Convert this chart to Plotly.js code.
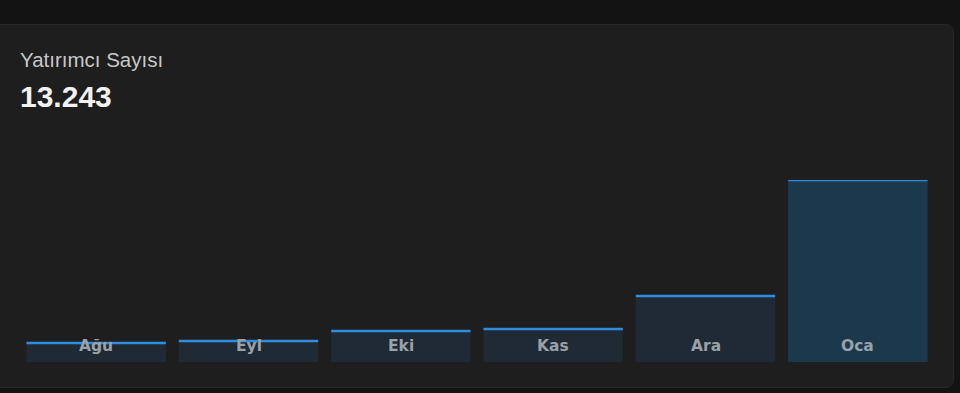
<!DOCTYPE html>
<html>
<head>
<meta charset="utf-8">
<script src="https://cdn.plot.ly/plotly-3.0.1.min.js"></script>
<style>
  html, body { margin:0; padding:0; width:960px; height:393px; background:#131313; overflow:hidden; }
  #card { position:absolute; left:-10px; top:24px; width:964px; height:364px; background:#1e1e1e; border-radius:8px; border:1px solid #262626; box-sizing:border-box; }
  #chart { position:absolute; left:0; top:0; width:960px; height:393px; }
</style>
</head>
<body>
<div id="card"></div>
<div id="chart"></div>
<script>
const months = ["Ağu", "Eyl", "Eki", "Kas", "Ara", "Oca"];
const investors = [1390, 1530, 2250, 2400, 4800, 13243];
const chartTitle = "Yatırımcı Sayısı";
const headline = "13.243";

const barWidth = 0.915;
const xs = months.map((m, i) => i);
const fills = months.map((m, i) => i === months.length - 1 ? "#1b384d" : "#1f2a34");

const lineX = [], lineY = [];
investors.forEach((v, i) => {
  lineX.push(i - barWidth / 2, i + barWidth / 2, null);
  lineY.push(v, v, null);
});

const bars = {
  type: "bar", x: xs, y: investors, width: barWidth,
  marker: { color: fills, line: { width: 0 } },
  hoverinfo: "skip", showlegend: false
};
const tops = {
  type: "scatter", mode: "lines", x: lineX, y: lineY,
  line: { color: "#2e8ddd", width: 2.5 },
  hoverinfo: "skip", showlegend: false, connectgaps: false
};

const annotations = months.map((m, i) => ({
  x: i, y: 0, xref: "x", yref: "y", text: m, showarrow: false,
  yanchor: "middle", yshift: 16,
  font: { family: "DejaVu Sans, Verdana, sans-serif", size: 15.5, color: "#9aa1a8", weight: 700 }
}));
annotations.push({
  x: 0, y: 1, xref: "paper", yref: "paper", text: chartTitle, showarrow: false,
  xanchor: "left", yanchor: "middle", xshift: -2, yshift: 121,
  font: { family: "Liberation Sans, Arial, sans-serif", size: 20.5, color: "#c8c8c8" }
});
annotations.push({
  x: 0, y: 1, xref: "paper", yref: "paper", text: headline, showarrow: false,
  xanchor: "left", yanchor: "middle", xshift: -2, yshift: 84,
  font: { family: "Liberation Sans, Arial, sans-serif", size: 30, color: "#f2f2f2", weight: 700 }
});

const layout = {
  width: 960, height: 393,
  margin: { l: 20, r: 26, t: 180, b: 31, pad: 0 },
  paper_bgcolor: "rgba(0,0,0,0)", plot_bgcolor: "rgba(0,0,0,0)",
  xaxis: { range: [-0.5, 5.5], visible: false, fixedrange: true },
  yaxis: { range: [0, 13243], visible: false, fixedrange: true },
  annotations: annotations,
  showlegend: false
};

Plotly.newPlot("chart", [bars, tops], layout, { displayModeBar: false, staticPlot: true });
</script>
</body>
</html>
